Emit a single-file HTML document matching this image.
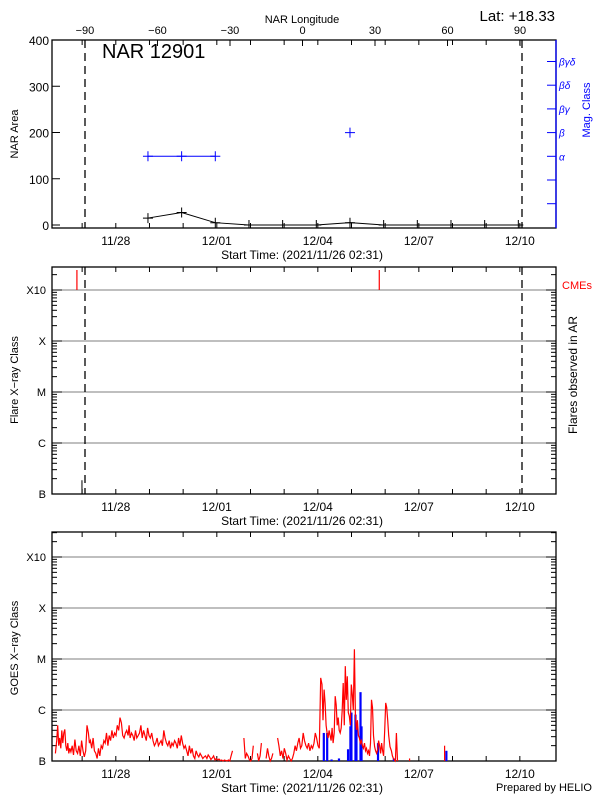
<!DOCTYPE html>
<html><head><meta charset="utf-8"><style>
html,body{margin:0;padding:0;background:#fff;}
svg{display:block;font-family:"Liberation Sans",sans-serif;}
</style></head><body>
<svg id="chart" width="600" height="800" viewBox="0 0 600 800">
<g id="g"></g>
</svg>
<script>
// ---------- data ----------
const dateLabels = ["11/28","12/01","12/04","12/07","12/10"];
const dateLabelDays = [1.895,4.895,7.895,10.895,13.895];
const lonLabels = [-90,-60,-30,0,30,60,90];
const areaDays = [2.85,3.85,4.85,5.85,6.85,7.85,8.85,9.85,10.85,11.85,12.85,13.85];
const areaValues = [15,27,5,0,0,0,5,0,0,0,0,0];
const magDays = [2.85,3.85,4.85,8.85];
const magClassIdx = [1,1,1,2];
const magClassLabels = ["α","β","βγ","βδ","βγδ"];
const areaTicks = [0,100,200,300,400];
const classLabels = ["B","C","M","X","X10"];
const cmeDays = [0.74,9.72];
const arFlareDays = [0.89];
const arFlareLevels = [0.27];
// GOES segments (null = gap / below B)
const goesDays = [0.10,0.14,0.17,0.20,0.23,0.26,0.29,0.32,0.35,0.38,0.41,0.44,0.47,0.50,0.53,0.56,0.60,0.64,0.68,0.72,0.76,0.80,0.84,0.88,0.92,0.96,1.00,1.04,1.08,1.11,1.14,1.18,1.22,1.26,1.30,1.34,1.38,1.42,1.46,1.50,1.54,1.58,1.62,1.66,1.70,1.74,1.78,1.82,1.86,1.90,1.94,1.98,2.02,2.06,2.10,2.14,2.18,2.22,2.26,2.29,2.32,2.36,2.40,2.44,2.48,2.52,2.56,2.60,2.64,2.68,2.72,2.76,2.80,2.84,2.88,2.92,2.96,3.00,3.04,3.08,3.12,3.16,3.20,3.24,3.28,3.32,3.36,3.40,3.44,3.48,3.52,3.56,3.60,3.64,3.68,3.72,3.76,3.80,3.84,3.88,3.92,3.96,4.00,4.04,4.08,4.12,4.16,4.20,4.24,4.28,4.32,4.36,4.40,4.44,4.48,4.52,4.56,4.60,4.64,4.68,4.72,4.76,4.80,4.84,4.88,4.92,4.96,5.00,5.04,5.08,5.12,5.16,5.20,5.24,5.28,5.32,5.36,
5.70,5.74,5.78,5.82,5.86,5.90,5.94,5.98,
6.10,6.14,6.18,6.22,
6.36,6.40,6.44,6.48,6.52,6.56,
6.70,6.74,6.78,6.82,6.86,6.90,6.94,6.98,7.02,7.06,7.10,7.14,7.18,7.22,7.26,7.30,7.34,7.38,7.42,7.46,7.50,7.54,7.58,7.62,7.66,7.70,7.74,7.78,7.82,7.86,7.90,7.94,7.98,8.02,8.05,8.08,8.11,8.14,8.17,8.20,8.23,8.26,8.29,8.32,8.35,8.38,8.41,8.44,8.47,8.50,8.53,8.56,8.59,8.62,8.65,8.68,8.71,8.74,8.77,8.80,8.83,8.86,8.89,8.92,8.95,8.98,9.01,9.04,9.07,9.10,9.13,9.16,9.19,9.22,9.25,9.28,9.31,9.34,9.37,9.40,9.43,9.46,9.49,9.52,9.55,9.58,9.61,9.64,9.67,9.70,9.73,9.76,9.79,9.82,9.85,9.88,9.91,9.94,9.97,10.00,10.04,10.08,10.11,10.14,10.17,10.20,10.23,10.26,10.29,10.32,10.36,10.40,10.44,10.47,10.50,10.53];
const goesLevels = [0.15,0.40,0.70,0.30,0.45,0.25,0.60,0.35,0.55,0.62,0.30,0.20,0.35,0.15,0.25,0.18,0.30,0.12,0.42,0.20,0.15,0.30,0.10,0.40,0.20,0.08,0.20,0.70,0.55,0.35,0.40,0.25,0.45,0.20,0.15,0.05,0.25,0.10,0.30,0.25,0.40,0.35,0.55,0.30,0.50,0.40,0.60,0.45,0.55,0.50,0.70,0.60,0.85,0.75,0.50,0.45,0.55,0.60,0.50,0.70,0.45,0.55,0.50,0.40,0.60,0.45,0.50,0.55,0.70,0.45,0.60,0.50,0.40,0.65,0.50,0.45,0.55,0.40,0.30,0.35,0.45,0.30,0.35,0.40,0.30,0.60,0.45,0.35,0.30,0.40,0.25,0.35,0.30,0.40,0.35,0.25,0.45,0.30,0.50,0.35,0.25,0.30,0.20,0.10,0.30,0.15,0.25,0.10,0.05,0.20,0.12,0.08,0.15,0.10,0.05,0.08,0.10,0.05,0.12,0.08,0.03,0.06,0.10,0.02,0.05,0.02,0.04,0.01,0.02,0.00,0.02,0.01,0.00,0.02,0.00,
0.10,0.20,0.45,0.05,0.15,0.10,0.03,0.00,
0.05,0.30,0.15,0.00,
0.10,0.35,0.05,0.25,0.10,0.00,
0.05,0.15,0.45,0.30,0.10,0.20,0.05,0.25,0.15,0.02,0.10,0.05,0.00,0.05,0.15,0.30,0.20,0.35,0.45,0.25,0.30,0.55,0.40,0.30,0.25,0.35,0.20,0.30,0.25,0.35,0.55,0.45,0.30,0.25,1.63,1.50,0.80,1.40,1.14,0.70,0.55,0.45,0.60,0.50,0.40,0.65,0.35,0.55,1.27,1.10,0.70,0.85,0.60,0.55,0.65,1.00,1.53,0.70,1.86,1.20,1.66,0.95,0.88,0.70,1.50,1.30,1.00,2.19,0.90,0.61,0.80,0.50,0.45,0.35,0.40,0.30,0.25,0.35,0.20,0.25,0.15,0.20,0.10,0.35,1.20,1.05,0.50,0.28,0.20,0.15,0.22,0.40,0.30,0.15,0.35,0.20,0.10,0.60,1.14,1.05,0.80,0.50,0.28,0.20,0.10,0.05,0.02,0.00,0.55,0.00];
const goesBreaks = [5.50,6.05,6.30,6.62];
const goesSpikeDays = [10.62,11.66];
const goesSpikeLevels = [0.05,0.30];
const blueDays = [8.07,8.17,8.30,8.52,8.79,8.86,8.89,9.01,9.04,9.16,9.19,9.68,10.15,11.71];
const blueLevels = [0.55,0.55,0.03,0.05,0.23,0.68,0.95,0.91,0.68,1.35,0.68,0.35,0.05,0.2];

// ---------- helpers ----------
const NS="http://www.w3.org/2000/svg";
const G=document.getElementById('g');
function el(tag,attrs,parent){const e=document.createElementNS(NS,tag);for(const k in attrs)e.setAttribute(k,attrs[k]);(parent||G).appendChild(e);return e;}
function txt(x,y,s,size,anchor,fill,extra){const t=el('text',Object.assign({x:x,y:y,'font-size':size,'text-anchor':anchor||'middle',fill:fill||'#000'},extra||{}));t.textContent=s;return t;}
const X0=52, X1=556, DAY=33.67;
const dayX=d=>X0+d*DAY;
const lonX=l=>302.5+l*2.417;

function timeAxis(yb,yt){
  for(let k=-2;k<13;k++){const x=dayX(1.895+k);if(x<=X0||x>=X1)continue;
    const t1=el('line',{x1:x,x2:x,y1:yb,y2:yb-5,stroke:'#000'});
    const t2=el('line',{x1:x,x2:x,y1:yt,y2:yt+5,stroke:'#000'});}
  dateLabels.forEach((s,i)=>{const t=txt(dayX(dateLabelDays[i]),yb+17,s,12);});
  const st=txt(302,yb+31,'Start Time: (2021/11/26 02:31)',12);
}
function frame(yt,yb,name){const r=el('rect',{x:X0,y:yt,width:X1-X0,height:yb-yt,fill:'none',stroke:'#000','stroke-width':1.3});}
function dashed(yt,yb){[85,522].forEach(x=>{const l=el('line',{x1:x,x2:x,y1:yt,y2:yb,stroke:'#000','stroke-dasharray':'8,5','stroke-width':1.3});});}
function classAxis(yt,yb,yB,dec){
  const ly=i=>yB-i*dec;
  for(let i=0;i<5;i++){const y=ly(i);
    if(i>0){const gl=el('line',{x1:X0+10,x2:X1-10,y1:y,y2:y,stroke:'#999','stroke-width':1.3});}
    const lb=txt(X0-6,y+4,classLabels[i],11,'end');
    for(let m=1;m<=9;m++){const yy=y-Math.log10(m)*dec;if(yy<yt)continue;const len=m==1?10:5;
      const a=el('line',{x1:X0,x2:X0+len,y1:yy,y2:yy,stroke:'#000'});
      const b=el('line',{x1:X1,x2:X1-len,y1:yy,y2:yy,stroke:'#000'});}
  }
  return ly;
}

// ---------- top panel ----------
const T0=40,T1=228;
const areaY=v=>225-v*0.4625;
frame(T0,T1,'area-panel');
dashed(T0,T1);
areaTicks.forEach(v=>{const y=areaY(v);const t=el('line',{x1:X0,x2:X0+8,y1:y,y2:y,stroke:'#000'});
  const l=txt(X0-3,y+5,String(v),12,'end');});
lonLabels.forEach(v=>{const x=lonX(v);const t=el('line',{x1:x,x2:x,y1:T0,y2:T0+6,stroke:'#000'});
  const l=txt(x,34,v<0?'−'+(-v):String(v),11);});
{const t=txt(302,23,'NAR Longitude',11);}
{const t=txt(555,21,'Lat: +18.33',15,'end');}
{const t=txt(102,58,'NAR 12901',20,'start');}
{const t=txt(0,0,'NAR Area',11,'middle','#000',{transform:'translate(18,134) rotate(-90)'});}
timeAxis(T1,T0);
const magY=i=>180-23.7*i;
{const a=el('line',{x1:X1,x2:X1,y1:T0,y2:T1,stroke:'#00f','stroke-width':1.3});}
for(let i=-1;i<=5;i++){const y=magY(i);const t=el('line',{x1:X1,x2:X1-9,y1:y,y2:y,stroke:'#00f'});
  if(i>=1){const l=txt(X1+3,y+4,magClassLabels[i-1],10,'start','#00f',{'font-style':'italic'});}}
{const t=txt(0,0,'Mag. Class',11,'middle','#00f',{transform:'translate(590,110) rotate(-90)'});}
{const p=el('polyline',{points:areaDays.map((d,i)=>dayX(d)+','+areaY(areaValues[i])).join(' '),fill:'none',stroke:'#000'});}
areaDays.forEach((d,i)=>{const x=dayX(d),y=areaY(areaValues[i]);const m=el('path',{d:`M${x-5},${y}H${x+5}M${x},${y-5}V${Math.min(y+5,T1)}`,stroke:'#000',fill:'none'});});
{const p=el('polyline',{points:magDays.slice(0,3).map((d,i)=>dayX(d)+','+magY(magClassIdx[i])).join(' '),fill:'none',stroke:'#00f'});}
magDays.forEach((d,i)=>{const x=dayX(d),y=magY(magClassIdx[i]);const m=el('path',{d:`M${x-5},${y}H${x+5}M${x},${y-5}V${y+5}`,stroke:'#00f',fill:'none'});});

// ---------- middle panel ----------
const M0=267,M1=494;
frame(M0,M1,'flares-panel');
const mY=classAxis(M0,M1,M1,51);
dashed(M0,M1);
timeAxis(M1,M0);
{const t=txt(0,0,'Flare X−ray Class',11,'middle','#000',{transform:'translate(18,380) rotate(-90)'});}
{const t=txt(0,0,'Flares observed in AR',12,'middle','#000',{transform:'translate(577,375) rotate(-90)'});}
{const t=txt(562,289,'CMEs',11,'start','#f00');}
cmeDays.forEach(d=>{const x=dayX(d);const l=el('line',{x1:x,x2:x,y1:270,y2:mY(4),stroke:'#f00','stroke-width':1.2});});
arFlareDays.forEach((d,i)=>{const x=dayX(d);const l=el('line',{x1:x,x2:x,y1:M1,y2:mY(arFlareLevels[i]),stroke:'#000'});});

// ---------- bottom panel ----------
const B0=532,B1=761;
frame(B0,B1,'goes-panel');
const bY=classAxis(B0,B1,B1,51);
timeAxis(B1,B0);
{const t=txt(0,0,'GOES X−ray Class',11,'middle','#000',{transform:'translate(18,648) rotate(-90)'});}
blueDays.forEach((d,i)=>{const x=dayX(d);const r=el('rect',{x:x-1,y:bY(blueLevels[i]),width:2.2,height:B1-bY(blueLevels[i]),fill:'#00f'});});
{
  // split into segments at break days
  let segs=[[]];let bi=0;
  goesDays.forEach((d,i)=>{while(bi<goesBreaks.length&&d>goesBreaks[bi]){segs.push([]);bi++;}
    segs[segs.length-1].push(dayX(d).toFixed(1)+','+bY(goesLevels[i]).toFixed(1));});
  segs.forEach(s=>{if(s.length<2)return;const p=el('polyline',{points:s.join(' '),fill:'none',stroke:'#f00','stroke-width':1.2});});
  goesSpikeDays.forEach((d,i)=>{const x=dayX(d);const l=el('line',{x1:x,x2:x,y1:B1,y2:bY(goesSpikeLevels[i]),stroke:'#f00','stroke-width':1.2});});
}
{const t=txt(592,791,'Prepared by HELIO',11,'end');}
</script>
</body></html>
